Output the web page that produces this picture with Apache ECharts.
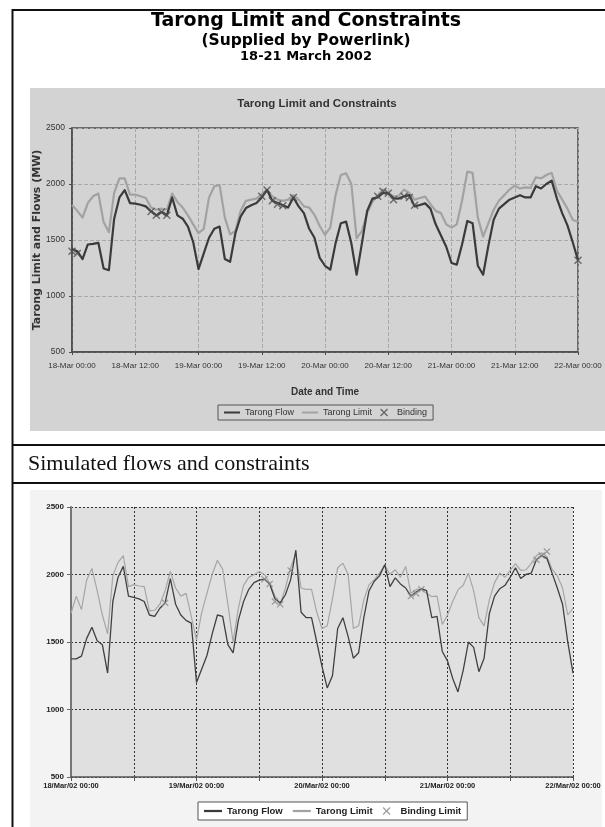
<!DOCTYPE html>
<html><head><meta charset="utf-8">
<script src="https://cdn.jsdelivr.net/npm/echarts@6/dist/echarts.min.js"></script>
<style>html,body{margin:0;padding:0;background:#fff;}#c{width:605px;height:827px;}</style>
</head><body><div id="c"></div>
<script>
// hourly values, 18-Mar 00:00 (index 0) .. 22-Mar 00:00 (index 96)
const flow1 = [1420,1400,1330,1460,1465,1475,1245,1230,1690,1880,
  1945,1830,1825,1815,1800,1755,1720,1750,1720,1880,
  1720,1690,1619,1480,1240,1380,1520,1600,1620,1330,
  1305,1560,1710,1785,1810,1830,1880,1946,1850,1830,
  1810,1790,1880,1800,1740,1600,1520,1340,1270,1235,
  1470,1650,1664,1470,1190,1470,1760,1870,1880,1920,
  1917,1872,1870,1890,1900,1800,1812,1827,1780,1640,
  1540,1440,1295,1280,1460,1670,1650,1270,1190,1450,
  1680,1780,1820,1860,1880,1900,1880,1880,1980,1960,
  2000,2030,1870,1740,1630,1480,1320];
const limit1 = [1812,1760,1700,1830,1890,1915,1660,1570,1920,2050,
  2050,1905,1905,1890,1875,1790,1770,1780,1770,1915,
  1840,1790,1720,1640,1560,1600,1880,1980,1990,1700,
  1550,1580,1760,1850,1860,1870,1910,1950,1890,1860,
  1850,1860,1900,1860,1800,1790,1725,1625,1545,1610,
  1900,2080,2095,2000,1515,1580,1740,1840,1900,1950,
  1920,1890,1895,1950,1920,1860,1875,1887,1820,1760,
  1740,1640,1610,1640,1850,2110,2100,1700,1530,1650,
  1770,1850,1900,1950,1985,1960,1970,1965,2060,2050,
  2080,2100,1940,1860,1780,1680,1660];
const binding1 = [1400,1380,null,null,null,null,null,null,null,null,
  null,null,null,null,null,1755,1720,1750,1720,null,
  null,null,null,null,null,null,null,null,null,null,
  null,null,null,null,null,null,1890,1946,1850,1820,
  1805,null,1880,null,null,null,null,null,null,null,
  null,null,null,null,null,null,null,null,1890,1935,
  1917,1860,null,1890,1880,1810,null,null,null,null,
  null,null,null,null,null,null,null,null,null,null,
  null,null,null,null,null,null,null,null,null,null,
  null,null,null,null,null,null,1320];

const flow2 = [1375,1375,1395,1527,1610,1510,1480,1270,1800,1980,
  2060,1840,1830,1820,1800,1700,1690,1750,1790,1970,
  1780,1700,1660,1640,1200,1300,1400,1560,1700,1690,
  1480,1420,1660,1800,1890,1940,1958,1965,1930,1820,
  1790,1850,1960,2180,1720,1680,1680,1500,1320,1160,
  1250,1600,1680,1540,1380,1420,1680,1880,1950,1990,
  2072,1910,1975,1930,1900,1840,1870,1895,1880,1680,
  1690,1430,1360,1230,1130,1290,1500,1460,1280,1380,
  1710,1840,1895,1920,1980,2050,1970,2000,2010,2110,
  2140,2120,2010,1900,1780,1500,1270];
const limit2 = [1713,1840,1740,1960,2045,1880,1700,1560,1990,2090,
  2140,1910,1925,1915,1910,1730,1735,1780,1880,2022,
  1900,1840,1860,1690,1515,1720,1860,2000,2105,2040,
  1780,1500,1750,1920,1980,1998,2022,2000,1935,1840,
  1775,1900,2050,2155,1900,1890,1890,1720,1600,1620,
  1820,2050,2084,2000,1600,1620,1812,1925,1960,2010,
  2070,2000,2035,1980,2060,1860,1890,1890,1860,1837,
  1840,1630,1700,1800,1886,1920,2010,1880,1680,1620,
  1812,1940,2010,1980,2030,2080,2030,2035,2080,2140,
  2160,2134,2040,1990,1900,1700,1750];
const binding2 = [null,null,null,null,null,null,null,null,null,null,
  null,null,null,null,null,null,null,null,1790,null,
  null,null,null,null,null,null,null,null,null,null,
  null,null,null,null,null,null,null,1965,1930,1800,
  1780,null,2030,null,null,null,null,null,null,null,
  null,null,null,null,null,null,null,null,null,null,
  null,null,null,null,null,1840,1860,1890,null,null,
  null,null,null,null,null,null,null,null,null,null,
  null,null,null,null,null,null,null,null,null,2110,
  2140,2170,null,null,null,null,null];

const xLabels1 = ['18-Mar 00:00','18-Mar 12:00','19-Mar 00:00','19-Mar 12:00','20-Mar 00:00','20-Mar 12:00','21-Mar 00:00','21-Mar 12:00','22-Mar 00:00'];
const xLabels2 = ['18/Mar/02 00:00','','19/Mar/02 00:00','','20/Mar/02 00:00','','21/Mar/02 00:00','','22/Mar/02 00:00'];
const yTicks = [500,1000,1500,2000,2500];

function pairs(arr){ const out=[]; arr.forEach((v,i)=>{ if(v!==null) out.push([i,v]); }); return out; }

const SANS = "'Liberation Sans',Arial,sans-serif";
const HEAVY = "'DejaVu Sans',sans-serif";
const XPATH = 'path://M0,1.5 L1.5,0 L6,4.5 L10.5,0 L12,1.5 L7.5,6 L12,10.5 L10.5,12 L6,7.5 L1.5,12 L0,10.5 L4.5,6 Z';
const LPATH = 'path://M0,0 L16,0 L16,2 L0,2 Z';

const chart = echarts.init(document.getElementById('c'));
const stroke = {stroke:'#111', lineWidth:2};
chart.setOption({
  backgroundColor:'#fff',
  animation:false,
  graphic:[
    {type:'rect', z:-5, silent:true, shape:{x:30,y:88,width:575,height:343}, style:{fill:'#d3d3d3'}},
    {type:'rect', z:-5, silent:true, shape:{x:30,y:490,width:572,height:337}, style:{fill:'#f3f3f3'}},
    {type:'line', silent:true, shape:{x1:12,y1:10,x2:605,y2:10}, style:stroke},
    {type:'line', silent:true, shape:{x1:12.5,y1:9,x2:12.5,y2:827}, style:stroke},
    {type:'line', silent:true, shape:{x1:12,y1:445,x2:605,y2:445}, style:stroke},
    {type:'line', silent:true, shape:{x1:12,y1:483,x2:605,y2:483}, style:stroke},
    {type:'text', silent:true, x:28, y:464, style:{text:'Simulated flows and constraints', font:"22px 'Liberation Serif','Times New Roman',serif", fill:'#111', verticalAlign:'middle'}}
  ],
  title:[
    {text:'Tarong Limit and Constraints', left:306, top:12, textAlign:'center', padding:0, textStyle:{fontFamily:HEAVY, fontWeight:'bold', fontSize:19, color:'#000'}},
    {text:'(Supplied by Powerlink)', left:306, top:33, textAlign:'center', padding:0, textStyle:{fontFamily:HEAVY, fontWeight:'bold', fontSize:15.5, color:'#000'}},
    {text:'18-21 March 2002', left:306, top:50, textAlign:'center', padding:0, textStyle:{fontFamily:HEAVY, fontWeight:'bold', fontSize:13, color:'#000'}},
    {text:'Tarong Limit and Constraints', left:317, top:98, textAlign:'center', padding:0, textStyle:{fontFamily:SANS, fontWeight:'bold', fontSize:11.5, color:'#333'}}
  ],
  legend:[
    {left:218, top:405, padding:[3,6], itemWidth:16, itemHeight:8, itemGap:8, borderColor:'#555', borderWidth:1,
     textStyle:{fontFamily:SANS, fontSize:9, color:'#333'},
     data:[{name:'Tarong Flow', icon:LPATH},{name:'Tarong Limit', icon:LPATH},{name:'Binding', icon:XPATH}]},
    {left:198, top:802, padding:[4,6], itemWidth:18, itemHeight:8, itemGap:10, borderColor:'#555', borderWidth:1, backgroundColor:'#fff',
     textStyle:{fontFamily:SANS, fontWeight:'bold', fontSize:9.5, color:'#222'},
     data:[{name:'Tarong Flow', icon:LPATH},{name:'Tarong Limit', icon:LPATH},{name:'Binding Limit', icon:XPATH}]}
  ],
  grid:[
    {left:72, top:128, width:506, height:224, show:true, borderColor:'#4a4a4a', borderWidth:1.5, backgroundColor:'transparent'},
    {left:71, top:507, width:502, height:270, show:true, borderWidth:0, backgroundColor:'#e0e0e0'}
  ],
  xAxis:[
    {type:'value', gridIndex:0, min:0, max:96, interval:12,
     axisLine:{show:true, lineStyle:{color:'#4a4a4a', width:1.5}},
     axisTick:{show:true, length:3, lineStyle:{color:'#4a4a4a'}},
     axisLabel:{formatter:v=>xLabels1[v/12], fontFamily:SANS, fontSize:8, color:'#333', margin:10},
     splitLine:{show:true, lineStyle:{type:'dashed', color:'#a8a8a8', width:1}},
     name:'Date and Time', nameLocation:'middle', nameGap:35,
     nameTextStyle:{fontFamily:SANS, fontWeight:'bold', fontSize:10, color:'#333'}},
    {type:'value', gridIndex:1, min:0, max:96, interval:12,
     axisLine:{show:true, lineStyle:{color:'#555', width:1.5}},
     axisTick:{show:true, length:4, lineStyle:{color:'#555'}},
     axisLabel:{formatter:v=>xLabels2[v/12], fontFamily:SANS, fontWeight:'bold', fontSize:7.5, color:'#222', margin:5},
     splitLine:{show:true, lineStyle:{type:[2,2], color:'#333', width:1}}}
  ],
  yAxis:[
    {type:'value', gridIndex:0, min:yTicks[0], max:yTicks[yTicks.length-1], interval:500,
     axisLine:{show:true, lineStyle:{color:'#4a4a4a', width:1.5}},
     axisTick:{show:true, length:3, lineStyle:{color:'#4a4a4a'}},
     axisLabel:{formatter:v=>String(v), fontFamily:SANS, fontSize:8.5, color:'#333', margin:7},
     splitLine:{show:true, lineStyle:{type:'dashed', color:'#a8a8a8', width:1}},
     name:'Tarong Limit and Flows (MW)', nameLocation:'middle', nameGap:29, nameRotate:90, nameMoveOverlap:false,
     nameTextStyle:{fontFamily:HEAVY, fontWeight:'bold', fontSize:11, color:'#333'}},
    {type:'value', gridIndex:1, min:yTicks[0], max:yTicks[yTicks.length-1], interval:500,
     axisLine:{show:true, lineStyle:{color:'#777', width:2}},
     axisTick:{show:true, length:4, lineStyle:{color:'#666'}},
     axisLabel:{formatter:v=>String(v), fontFamily:SANS, fontWeight:'bold', fontSize:8, color:'#222', margin:7},
     splitLine:{show:true, lineStyle:{type:[2,2], color:'#333', width:1}}}
  ],
  series:[
    {name:'Tarong Limit', type:'line', xAxisIndex:0, yAxisIndex:0, data:pairs(limit1), symbol:'none', z:2,
     lineStyle:{color:'#a2a2a2', width:2.2, join:'round'}, itemStyle:{color:'#a2a2a2'}},
    {name:'Tarong Flow', type:'line', xAxisIndex:0, yAxisIndex:0, data:pairs(flow1), symbol:'none', z:3,
     lineStyle:{color:'#3a3a3a', width:2.2, join:'round'}, itemStyle:{color:'#3a3a3a'}},
    {name:'Binding', type:'scatter', xAxisIndex:0, yAxisIndex:0, data:pairs(binding1), symbol:XPATH, symbolSize:8, z:4,
     itemStyle:{color:'#505050'}},
    {name:'Tarong Limit', type:'line', xAxisIndex:1, yAxisIndex:1, data:pairs(limit2), symbol:'none', z:2,
     lineStyle:{color:'#a6a6a6', width:1.2}, itemStyle:{color:'#a6a6a6'}},
    {name:'Tarong Flow', type:'line', xAxisIndex:1, yAxisIndex:1, data:pairs(flow2), symbol:'none', z:3,
     lineStyle:{color:'#404040', width:1.3}, itemStyle:{color:'#404040'}},
    {name:'Binding Limit', type:'scatter', xAxisIndex:1, yAxisIndex:1, data:pairs(binding2), symbol:XPATH, symbolSize:7, z:4,
     itemStyle:{color:'#8a8a8a'}}
  ]
});
</script></body></html>
